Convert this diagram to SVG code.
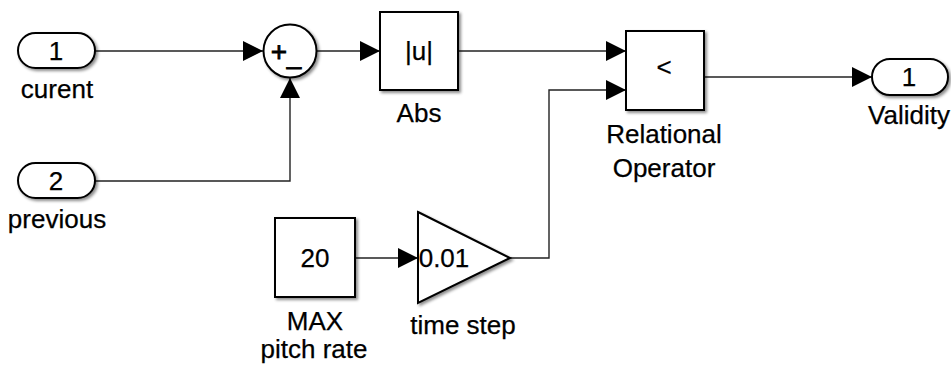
<svg xmlns="http://www.w3.org/2000/svg" width="951" height="367" viewBox="0 0 951 367">
<style>
.blk{fill:#fff;stroke:#000;stroke-width:2;filter:url(#sh)}
.ln{fill:none;stroke:#222;stroke-width:1.4;marker-end:url(#ar)}
.ln2{fill:none;stroke:#222;stroke-width:1.4}
text{font-family:"Liberation Sans",Arial,sans-serif;font-size:26px;fill:#000;stroke:#000;stroke-width:0.25;text-anchor:middle}
</style>
<defs>
<filter id="sh" x="-20%" y="-20%" width="150%" height="150%">
<feDropShadow dx="2" dy="2" stdDeviation="1.8" flood-color="#000" flood-opacity="0.45"/>
</filter>
<marker id="ar" markerUnits="userSpaceOnUse" markerWidth="22" markerHeight="22" refX="20" refY="10" orient="auto">
<path d="M0,0 L20,10 L0,20 z" fill="#000"/>
</marker>
</defs>
<g id="connectors">
<path class="ln" d="M95,51 H263"/>
<path class="ln2" d="M95,181 H290 V95"/>
<path class="ln" d="M290,95 V78"/>
<path class="ln" d="M317,51 H380"/>
<path class="ln" d="M458,51 H626"/>
<path class="ln" d="M510,258 H549 V90 H626"/>
<path class="ln" d="M704,77 H872"/>
<path class="ln" d="M355,258 H418"/>
</g>
<g id="in1">
<rect class="blk" x="18" y="33" width="77" height="35" rx="17.5"/>
<text x="56" y="60">1</text>
<text x="57" y="98">curent</text>
</g>
<g id="in2">
<rect class="blk" x="18" y="163" width="77" height="35" rx="17.5"/>
<text x="56" y="190">2</text>
<text x="57" y="228">previous</text>
</g>
<g id="sum">
<circle class="blk" cx="290" cy="51" r="26.5"/>
<text x="279" y="61" style="font-size:28px;stroke-width:0.8">+</text>
<text x="294" y="64" style="font-size:26px;stroke-width:0.8">_</text>
</g>
<g id="abs">
<rect class="blk" x="380" y="12" width="78" height="78"/>
<text x="419" y="60">|u|</text>
<text x="419" y="122">Abs</text>
</g>
<g id="relop">
<rect class="blk" x="626" y="31" width="78" height="79"/>
<text x="664" y="76">&lt;</text>
<text x="664" y="143">Relational</text>
<text x="664" y="177">Operator</text>
</g>
<g id="out1">
<rect class="blk" x="872" y="59" width="76" height="36" rx="18"/>
<text x="909" y="86">1</text>
<text x="909" y="124">Validity</text>
</g>
<g id="const">
<rect class="blk" x="275" y="218" width="80" height="79"/>
<text x="315" y="267">20</text>
<text x="315" y="330">MAX</text>
<text x="314" y="358">pitch rate</text>
</g>
<g id="gain">
<polygon class="blk" points="418,212 510,258 418,303"/>
<text x="444" y="267">0.01</text>
<text x="463" y="334">time step</text>
</g>
</svg>
